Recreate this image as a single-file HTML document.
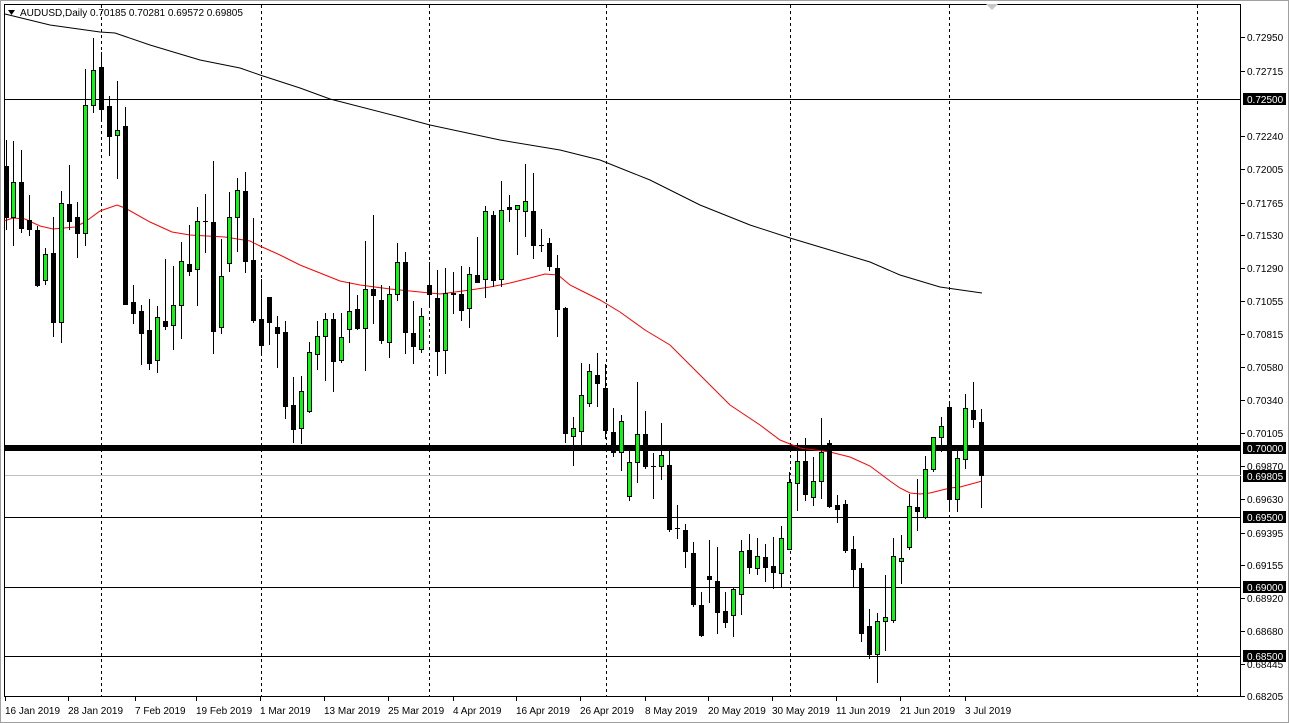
<!DOCTYPE html>
<html><head><meta charset="utf-8"><style>
body{margin:0;background:#fff;width:1289px;height:723px;overflow:hidden}
svg{display:block}
text{font-family:"Liberation Sans","DejaVu Sans",sans-serif;font-size:10px;fill:#000}
</style></head><body>
<svg id="c" width="1289" height="723" xmlns="http://www.w3.org/2000/svg"></svg>
<script>
const C=[
[6,140,230,166,217,0],[13,141,246,182,217,1],[21,150,233,182,228,0],[29,195,236,220,229,0],[37,226,287,230,285,0],[45,248,285,254,280,1],[53,217,337,253,322,0],[61,191,343,203,322,1],[69,165,230,204,221,0],[77,202,258,217,233,0],[85,69,246,105,233,1],[93,38,113,70,105,1],[101,52,120,67,109,0],[109,96,156,106,136,0],[117,81,179,130,135,1],[125,107,305,126,304,0],
[133,285,324,302,313,0],[141,305,365,311,333,0],[149,299,370,330,363,0],[157,306,373,317,360,1],[165,259,330,321,326,0],[173,266,350,305,325,1],[181,242,339,261,305,1],[189,225,276,264,271,0],[197,207,306,221,269,1],[205,194,253,221,221,0],[213,161,354,222,331,0],[221,239,334,276,327,1],[229,192,272,217,263,1],[237,178,252,190,217,1],[245,172,273,191,261,0],[253,218,323,260,320,0],[261,279,354,319,345,0],[269,297,345,297,322,0],[277,316,368,327,333,0],[285,321,419,332,406,0],[293,377,443,405,429,0],[301,376,444,391,428,1],[309,342,413,352,411,1],[317,321,370,336,354,1],[325,313,381,319,336,1],[333,313,392,319,361,0],
[341,313,363,337,360,1],[349,282,343,311,329,1],[357,295,330,309,328,0],[365,241,371,289,328,1],[373,215,324,289,295,0],[381,285,344,300,340,0],[389,286,358,294,342,1],[397,243,301,262,294,1],[405,252,354,262,332,0],[413,301,364,333,346,0],[421,308,353,316,349,1],[429,262,307,285,294,0],[437,270,376,298,351,0],[445,268,374,293,350,1],[453,272,314,293,294,0],[461,266,321,294,310,0],[469,267,328,274,308,1],[477,237,283,275,282,0],[485,206,298,211,279,1],[493,211,287,215,280,0],[501,181,287,210,279,1],[509,195,222,207,209,0],[517,205,255,205,209,1],[525,164,237,201,211,1],[533,173,259,211,245,0],[541,229,252,245,245,0],[549,238,271,243,266,0],[557,255,337,268,309,0],[565,307,443,308,433,0],
[573,417,466,428,436,1],[581,363,445,395,431,1],[589,364,407,371,403,1],[597,353,407,375,383,0],[605,364,439,388,430,0],[613,408,457,432,452,0],[621,415,471,421,452,1],[629,445,501,462,496,1],[637,382,483,434,462,1],[645,411,469,434,466,0],[653,453,499,466,466,0],[661,423,480,455,466,1],[669,450,532,465,529,0],[677,505,539,528,528,0],[685,524,568,530,551,0],[693,542,607,553,604,0],[701,592,637,605,635,0],[709,540,603,576,579,0],[717,547,634,581,612,0],[725,592,628,611,622,0],[733,587,637,589,615,1],[741,540,615,551,594,1],[749,534,574,550,567,0],[757,538,575,556,568,1],[765,544,582,557,567,0],[773,537,589,566,572,0],[781,526,587,538,573,1],
[789,472,550,482,549,1],[797,443,511,461,483,1],[805,438,501,461,494,0],[813,457,506,481,497,1],[821,418,499,452,481,1],[829,440,508,443,506,0],[837,495,523,505,509,0],[845,500,553,504,550,0],[853,536,587,549,569,0],[861,563,642,568,633,0],[869,609,659,626,654,0],[877,613,683,621,654,1],[885,575,651,617,621,1],[893,538,623,556,620,1],[901,535,584,558,561,1],[909,494,550,506,547,1],[917,479,531,507,511,0],[925,456,519,469,517,1],[933,437,472,437,469,1],[941,417,452,426,437,1],[949,401,511,407,499,0],[957,450,512,458,499,1],[965,394,469,408,459,1],[973,382,428,410,419,0],[981,409,508,422,475,0]];
const black=[[5,14],[50,25],[100,32],[115,33],[150,45],[200,60],[240,68],[260,75],[300,88],[330,99],[400,117],[430,125],[500,140],[560,150],[600,160],[650,180],[700,205],[750,225],[790,238],[830,250],[870,262],[900,275],[940,287],[982,293]];
const red=[[4,221],[13,218],[25,219],[40,226],[53,229],[75,227],[85,222],[100,211],[117,205],[125,208],[150,222],[172,232],[190,235],[207,236],[225,237],[250,241],[260,246],[280,255],[300,265],[320,273],[340,281],[360,285],[390,289],[420,292],[440,294],[470,290],[490,287],[510,283],[530,278],[545,274],[558,275],[570,285],[580,290],[600,300],[620,312],[645,330],[670,345],[700,375],[730,405],[760,425],[780,440],[800,448],[830,452],[850,457],[870,466],[890,481],[900,488],[910,493],[920,494],[930,493],[950,488],[960,487],[975,483],[982,481]];
let s='';
s+='<rect x="0.5" y="0.5" width="1288" height="722" fill="#fff" stroke="#a0a0a0"/>';
s+='<rect x="4.5" y="4.5" width="1236" height="692" fill="#fff" stroke="#000"/>';
[101,261,429,606,790,949,1197].forEach(x=>{s+=`<line x1="${x+.5}" y1="5" x2="${x+.5}" y2="696" stroke="#000" stroke-dasharray="3,3"/>`});
[[99,1],[517,1],[587,1],[656,1]].forEach(a=>{s+=`<line x1="5" y1="${a[0]+.5}" x2="1241" y2="${a[0]+.5}" stroke="#000"/>`});
s+='<line x1="5" y1="475.5" x2="1241" y2="475.5" stroke="#c0c0c0"/>';
s+='<rect x="5" y="445" width="1236" height="6" fill="#000"/>';
s+='<polyline fill="none" stroke="#000" points="'+black.map(p=>p.join(',')).join(' ')+'"/>';
s+='<polyline fill="none" stroke="#f00" points="'+red.map(p=>p.join(',')).join(' ')+'"/>';
C.forEach(c=>{const[x,h,l,t,b,g]=c;
s+=`<line x1="${x+.5}" y1="${h}" x2="${x+.5}" y2="${l}" stroke="#000"/>`;
if(b-t<1){s+=`<line x1="${x-2}" y1="${t+.5}" x2="${x+3}" y2="${t+.5}" stroke="#000"/>`}
else if(g){s+=`<rect x="${x-1.5}" y="${t+.5}" width="4" height="${b-t}" fill="#0f0" stroke="#000"/>`}
else{s+=`<rect x="${x-2}" y="${t}" width="5" height="${b-t+1}" fill="#000"/>`}});
const P=[["0.72950",37],["0.72715",71],["0.72240",136],["0.72005",169],["0.71765",203],["0.71530",235],["0.71290",268],["0.71055",301],["0.70815",334],["0.70580",367],["0.70340",400],["0.70105",433],["0.69870",466],["0.69630",499],["0.69395",533],["0.69155",565],["0.68920",598],["0.68680",631],["0.68445",664],["0.68205",696]];
P.forEach(p=>{s+=`<line x1="1241" y1="${p[1]+.5}" x2="1245" y2="${p[1]+.5}" stroke="#000"/><text x="1247" y="${p[1]+4}">${p[0]}</text>`});
[["0.72500",99],["0.70000",448],["0.69805",476],["0.69500",517],["0.69000",587],["0.68500",656]].forEach(p=>{s+=`<rect x="1243" y="${p[1]-6}" width="43" height="12" fill="#000"/><text x="1247" y="${p[1]+4}" style="fill:#fff">${p[0]}</text>`});
const D=[["16 Jan 2019",5],["28 Jan 2019",68],["7 Feb 2019",135],["19 Feb 2019",196],["1 Mar 2019",260],["13 Mar 2019",324],["25 Mar 2019",388],["4 Apr 2019",453],["16 Apr 2019",516],["26 Apr 2019",580],["8 May 2019",645],["20 May 2019",708],["30 May 2019",772],["11 Jun 2019",836],["21 Jun 2019",900],["3 Jul 2019",965]];
D.forEach(d=>{s+=`<line x1="${d[1]+.5}" y1="697" x2="${d[1]+.5}" y2="701" stroke="#000"/><text x="${d[1]}" y="714">${d[0]}</text>`});
s+='<polygon points="8,10 15,10 11.5,15" fill="#000"/><text x="20" y="16">AUDUSD,Daily  0.70185 0.70281 0.69572 0.69805</text>';
s+='<polygon points="986,4 998,4 992,10" fill="#c8c8c8"/>';
document.getElementById('c').innerHTML=s;
</script>
</body></html>
